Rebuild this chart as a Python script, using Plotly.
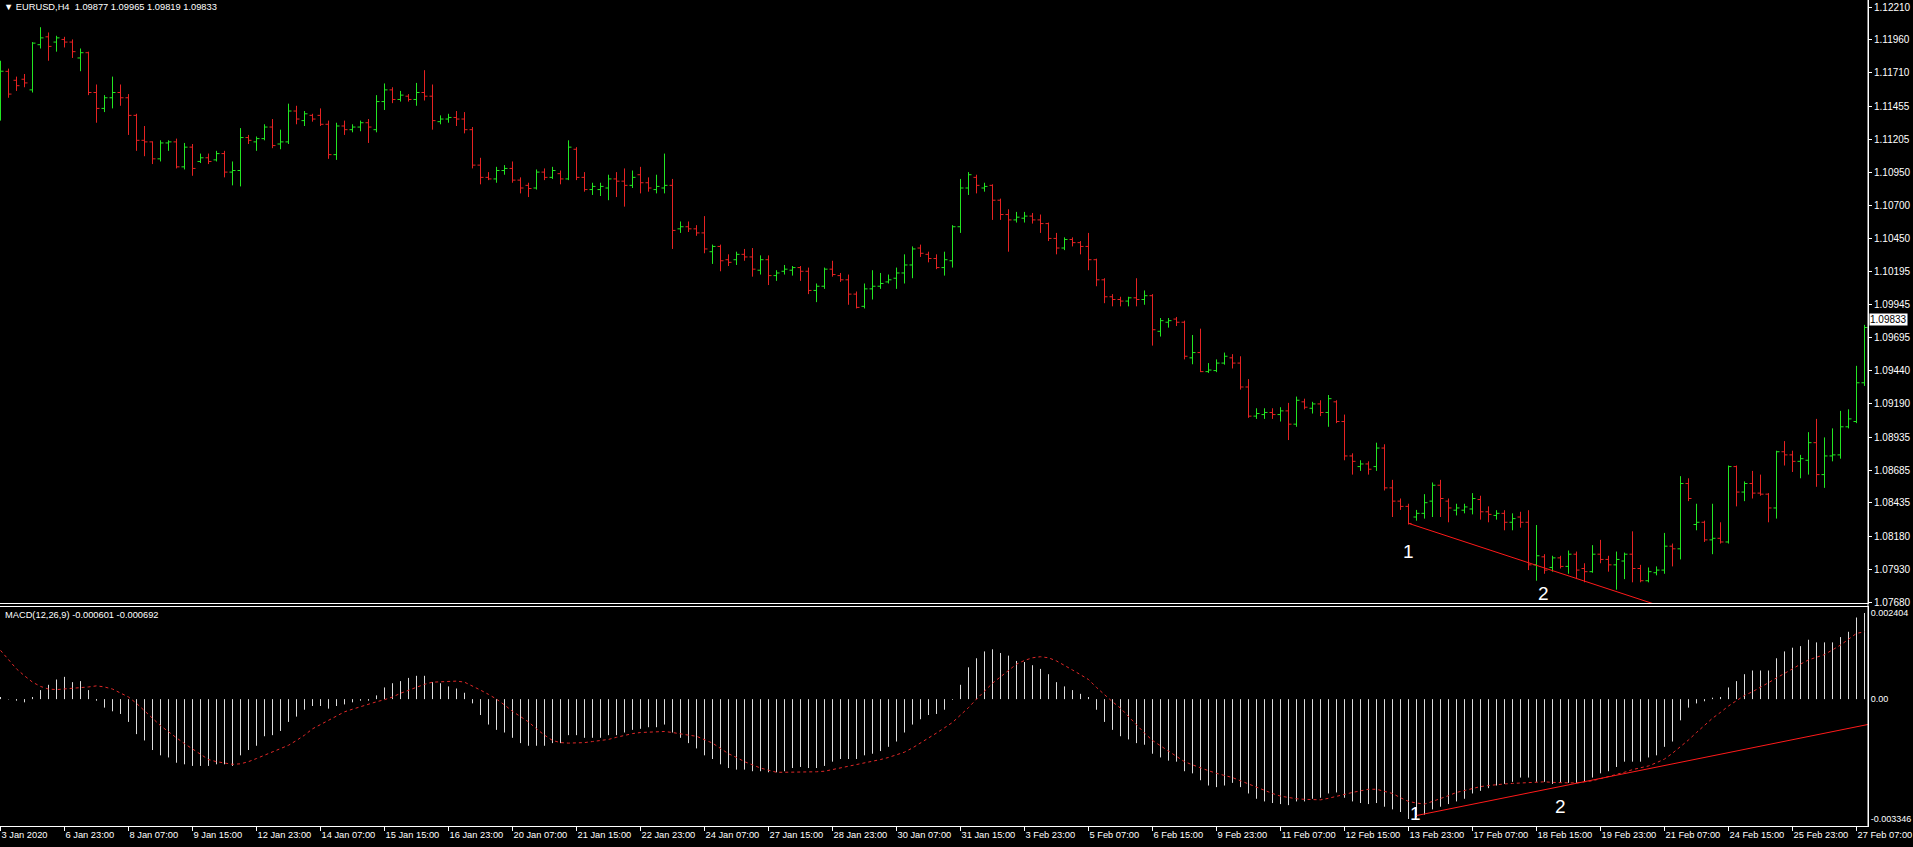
import plotly.graph_objects as go

# ---------------- data ----------------
bar_index = list(range(235))

opens = [
    1.11498, 1.11720, 1.11652, 1.11660, 1.11579, 1.11923, 1.11983, 1.11943, 1.11963, 1.11943,
    1.11822, 1.11862, 1.11559, 1.11438, 1.11519, 1.11559, 1.11519, 1.11385, 1.11195, 1.11183,
    1.11054, 1.11175, 1.11183, 1.10993, 1.11143, 1.11034, 1.11062, 1.11046, 1.11094, 1.10953,
    1.10965, 1.11216, 1.11183, 1.11208, 1.11296, 1.11167, 1.11183, 1.11418, 1.11345, 1.11385,
    1.11385, 1.11317, 1.11086, 1.11304, 1.11276, 1.11296, 1.11329, 1.11276, 1.11490, 1.11579,
    1.11506, 1.11531, 1.11506, 1.11559, 1.11531, 1.11337, 1.11357, 1.11369, 1.11357, 1.11276,
    1.11006, 1.10913, 1.10901, 1.10965, 1.10981, 1.10892, 1.10852, 1.10832, 1.10953, 1.10913,
    1.10941, 1.10901, 1.11127, 1.10913, 1.10820, 1.10820, 1.10832, 1.10901, 1.10884, 1.10852,
    1.10933, 1.10872, 1.10820, 1.10832, 1.10852, 1.10521, 1.10537, 1.10521, 1.10490, 1.10347,
    1.10387, 1.10286, 1.10286, 1.10327, 1.10307, 1.10206, 1.10286, 1.10165, 1.10198, 1.10206,
    1.10226, 1.10198, 1.10052, 1.10084, 1.10214, 1.10165, 1.10133, 1.10024, 1.09931, 1.10064,
    1.10084, 1.10117, 1.10145, 1.10185, 1.10246, 1.10375, 1.10327, 1.10295, 1.10226, 1.10278,
    1.10537, 1.10832, 1.10913, 1.10832, 1.10852, 1.10739, 1.10630, 1.10589, 1.10602, 1.10618,
    1.10589, 1.10561, 1.10448, 1.10375, 1.10440, 1.10416, 1.10387, 1.10286, 1.10133, 1.10004,
    1.09983, 1.09971, 1.09996, 1.09983, 1.10012, 1.09741, 1.09810, 1.09834, 1.09810, 1.09539,
    1.09579, 1.09434, 1.09442, 1.09499, 1.09539, 1.09499, 1.09317, 1.09095, 1.09107, 1.09123,
    1.09107, 1.09135, 1.09034, 1.09204, 1.09155, 1.09188, 1.09123, 1.09204, 1.09054, 1.08792,
    1.08711, 1.08731, 1.08711, 1.08852, 1.08549, 1.08448, 1.08408, 1.08327, 1.08355, 1.08448,
    1.08569, 1.08448, 1.08379, 1.08379, 1.08388, 1.08460, 1.08367, 1.08339, 1.08355, 1.08287,
    1.08327, 1.08287, 1.07963, 1.08024, 1.07943, 1.08016, 1.07951, 1.08044, 1.07935, 1.07911,
    1.08044, 1.08004, 1.07963, 1.07992, 1.08044, 1.07935, 1.07842, 1.07903, 1.07923, 1.08105,
    1.08085, 1.08582, 1.08270, 1.08287, 1.08153, 1.08165, 1.08137, 1.08711, 1.08517, 1.08582,
    1.08509, 1.08501, 1.08396, 1.08824, 1.08800, 1.08751, 1.08759, 1.08893, 1.08650, 1.08792,
    1.08800, 1.09014, 1.09054, 1.09349, 1.09877,
]
highs = [
    1.11801, 1.11741, 1.11680, 1.11700, 1.11943, 1.12056, 1.12016, 1.11991, 1.11983, 1.11963,
    1.11894, 1.11870, 1.11620, 1.11539, 1.11680, 1.11620, 1.11547, 1.11397, 1.11304, 1.11187,
    1.11195, 1.11195, 1.11208, 1.11175, 1.11167, 1.11094, 1.11094, 1.11115, 1.11115, 1.11034,
    1.11288, 1.11236, 1.11224, 1.11317, 1.11357, 1.11276, 1.11474, 1.11458, 1.11418, 1.11397,
    1.11438, 1.11345, 1.11329, 1.11345, 1.11317, 1.11345, 1.11357, 1.11539, 1.11628, 1.11599,
    1.11571, 1.11547, 1.11632, 1.11729, 1.11620, 1.11385, 1.11397, 1.11418, 1.11410, 1.11296,
    1.11062, 1.10953, 1.10993, 1.11006, 1.11034, 1.10913, 1.10872, 1.10973, 1.10981, 1.10993,
    1.10965, 1.11195, 1.11143, 1.10953, 1.10872, 1.10872, 1.10933, 1.10953, 1.10981, 1.10965,
    1.10993, 1.10913, 1.10933, 1.11094, 1.10901, 1.10577, 1.10577, 1.10549, 1.10618, 1.10401,
    1.10401, 1.10327, 1.10347, 1.10368, 1.10375, 1.10319, 1.10319, 1.10206, 1.10246, 1.10238,
    1.10238, 1.10226, 1.10105, 1.10226, 1.10278, 1.10185, 1.10173, 1.10044, 1.10105, 1.10206,
    1.10185, 1.10173, 1.10226, 1.10327, 1.10387, 1.10401, 1.10347, 1.10327, 1.10347, 1.10549,
    1.10901, 1.10953, 1.10933, 1.10872, 1.10860, 1.10751, 1.10670, 1.10650, 1.10650, 1.10642,
    1.10630, 1.10569, 1.10490, 1.10456, 1.10456, 1.10428, 1.10490, 1.10294, 1.10145, 1.10024,
    1.10004, 1.10004, 1.10145, 1.10052, 1.10024, 1.09842, 1.09842, 1.09850, 1.09822, 1.09713,
    1.09761, 1.09499, 1.09527, 1.09579, 1.09567, 1.09551, 1.09377, 1.09155, 1.09155, 1.09155,
    1.09163, 1.09196, 1.09244, 1.09228, 1.09204, 1.09216, 1.09256, 1.09216, 1.09107, 1.08812,
    1.08759, 1.08751, 1.08893, 1.08881, 1.08610, 1.08468, 1.08428, 1.08381, 1.08501, 1.08590,
    1.08610, 1.08468, 1.08428, 1.08428, 1.08509, 1.08489, 1.08408, 1.08379, 1.08379, 1.08355,
    1.08367, 1.08379, 1.08266, 1.08044, 1.08032, 1.08032, 1.08072, 1.08064, 1.07975, 1.08113,
    1.08153, 1.08032, 1.08064, 1.08056, 1.08218, 1.07963, 1.07943, 1.07951, 1.08206, 1.08125,
    1.08638, 1.08622, 1.08428, 1.08299, 1.08428, 1.08287, 1.08719, 1.08719, 1.08598, 1.08678,
    1.08650, 1.08509, 1.08832, 1.08905, 1.08832, 1.08800, 1.08973, 1.09074, 1.08933, 1.09002,
    1.09135, 1.09147, 1.09478, 1.09790, 1.09965,
]
lows = [
    1.11345, 1.11519, 1.11571, 1.11599, 1.11559, 1.11894, 1.11801, 1.11870, 1.11902, 1.11822,
    1.11721, 1.11539, 1.11329, 1.11410, 1.11438, 1.11458, 1.11236, 1.11115, 1.11074, 1.11014,
    1.11034, 1.11115, 1.10981, 1.10973, 1.10925, 1.11022, 1.11014, 1.11034, 1.10913, 1.10852,
    1.10844, 1.11167, 1.11115, 1.11195, 1.11135, 1.11127, 1.11167, 1.11317, 1.11304, 1.11337,
    1.11304, 1.11054, 1.11046, 1.11236, 1.11256, 1.11264, 1.11175, 1.11256, 1.11426, 1.11478,
    1.11490, 1.11490, 1.11458, 1.11498, 1.11276, 1.11317, 1.11329, 1.11304, 1.11248, 1.10981,
    1.10860, 1.10892, 1.10872, 1.10933, 1.10872, 1.10791, 1.10763, 1.10820, 1.10892, 1.10901,
    1.10860, 1.10892, 1.10892, 1.10804, 1.10779, 1.10771, 1.10739, 1.10763, 1.10690, 1.10832,
    1.10791, 1.10804, 1.10791, 1.10791, 1.10368, 1.10490, 1.10497, 1.10468, 1.10335, 1.10254,
    1.10198, 1.10238, 1.10246, 1.10278, 1.10157, 1.10173, 1.10093, 1.10125, 1.10173, 1.10165,
    1.10125, 1.10024, 1.09963, 1.10064, 1.10157, 1.10117, 1.09943, 1.09915, 1.09915, 1.09983,
    1.10064, 1.10105, 1.10064, 1.10105, 1.10145, 1.10307, 1.10266, 1.10214, 1.10165, 1.10226,
    1.10490, 1.10779, 1.10791, 1.10804, 1.10589, 1.10589, 1.10347, 1.10569, 1.10569, 1.10561,
    1.10490, 1.10428, 1.10327, 1.10359, 1.10387, 1.10327, 1.10206, 1.10084, 1.09955, 1.09931,
    1.09931, 1.09931, 1.09931, 1.09943, 1.09632, 1.09701, 1.09769, 1.09781, 1.09527, 1.09490,
    1.09430, 1.09424, 1.09430, 1.09487, 1.09458, 1.09297, 1.09082, 1.09074, 1.09074, 1.09074,
    1.09054, 1.08913, 1.09014, 1.09147, 1.09115, 1.09095, 1.09014, 1.09042, 1.08759, 1.08650,
    1.08678, 1.08650, 1.08678, 1.08529, 1.08327, 1.08381, 1.08270, 1.08299, 1.08315, 1.08327,
    1.08327, 1.08287, 1.08339, 1.08355, 1.08347, 1.08307, 1.08287, 1.08307, 1.08226, 1.08226,
    1.08246, 1.07923, 1.07842, 1.07895, 1.07911, 1.07935, 1.07895, 1.07854, 1.07830, 1.07903,
    1.07975, 1.07911, 1.07774, 1.07854, 1.07830, 1.07830, 1.07830, 1.07883, 1.07895, 1.07951,
    1.08004, 1.08448, 1.08226, 1.08137, 1.08044, 1.08125, 1.08125, 1.08408, 1.08448, 1.08468,
    1.08489, 1.08287, 1.08315, 1.08719, 1.08670, 1.08622, 1.08650, 1.08557, 1.08549, 1.08751,
    1.08771, 1.09002, 1.09042, 1.09325, 1.09819,
]
closes = [
    1.11721, 1.11547, 1.11611, 1.11632, 1.11935, 1.11975, 1.11910, 1.11975, 1.11943, 1.11870,
    1.11862, 1.11559, 1.11438, 1.11519, 1.11559, 1.11519, 1.11385, 1.11195, 1.11183, 1.11054,
    1.11175, 1.11183, 1.10993, 1.11143, 1.10981, 1.11062, 1.11034, 1.11094, 1.10953, 1.10965,
    1.11216, 1.11195, 1.11208, 1.11296, 1.11155, 1.11183, 1.11418, 1.11357, 1.11397, 1.11357,
    1.11317, 1.11086, 1.11304, 1.11276, 1.11296, 1.11329, 1.11296, 1.11490, 1.11579, 1.11506,
    1.11539, 1.11506, 1.11559, 1.11531, 1.11345, 1.11357, 1.11369, 1.11357, 1.11276, 1.11006,
    1.10913, 1.10901, 1.10965, 1.10981, 1.10892, 1.10832, 1.10828, 1.10953, 1.10913, 1.10965,
    1.10901, 1.11143, 1.10913, 1.10820, 1.10844, 1.10844, 1.10901, 1.10884, 1.10852, 1.10913,
    1.10872, 1.10832, 1.10844, 1.10852, 1.10509, 1.10537, 1.10521, 1.10490, 1.10368, 1.10387,
    1.10278, 1.10266, 1.10327, 1.10307, 1.10214, 1.10286, 1.10165, 1.10185, 1.10214, 1.10226,
    1.10198, 1.10052, 1.10084, 1.10214, 1.10173, 1.10133, 1.10024, 1.09923, 1.10064, 1.10084,
    1.10105, 1.10133, 1.10185, 1.10246, 1.10368, 1.10335, 1.10295, 1.10226, 1.10286, 1.10537,
    1.10832, 1.10933, 1.10852, 1.10844, 1.10739, 1.10630, 1.10589, 1.10610, 1.10618, 1.10589,
    1.10561, 1.10448, 1.10375, 1.10440, 1.10416, 1.10387, 1.10286, 1.10133, 1.10004, 1.09983,
    1.09971, 1.09996, 1.09983, 1.10012, 1.09753, 1.09822, 1.09822, 1.09810, 1.09551, 1.09579,
    1.09434, 1.09446, 1.09499, 1.09551, 1.09499, 1.09317, 1.09095, 1.09115, 1.09123, 1.09107,
    1.09135, 1.09034, 1.09216, 1.09163, 1.09188, 1.09123, 1.09228, 1.09054, 1.08792, 1.08751,
    1.08731, 1.08691, 1.08852, 1.08549, 1.08448, 1.08408, 1.08278, 1.08355, 1.08436, 1.08569,
    1.08468, 1.08396, 1.08396, 1.08404, 1.08468, 1.08367, 1.08347, 1.08355, 1.08287, 1.08315,
    1.08287, 1.07963, 1.08032, 1.07923, 1.08016, 1.07951, 1.08044, 1.07923, 1.07911, 1.08044,
    1.08004, 1.07963, 1.08004, 1.08044, 1.07935, 1.07842, 1.07911, 1.07923, 1.08105, 1.08085,
    1.08582, 1.08468, 1.08287, 1.08153, 1.08165, 1.08137, 1.08711, 1.08517, 1.08582, 1.08509,
    1.08501, 1.08396, 1.08824, 1.08800, 1.08751, 1.08771, 1.08893, 1.08650, 1.08792, 1.08800,
    1.09014, 1.09074, 1.09349, 1.09770, 1.09833,
]

macd_main = [
    0.000059, -0.000010, -0.000044, -0.000089, 0.000059, 0.000252, 0.000400, 0.000548, 0.000622, 0.000474,
    0.000503, 0.000252, -0.000044, -0.000237, -0.000340, -0.000414, -0.000636, -0.000977, -0.001154, -0.001421,
    -0.001569, -0.001628, -0.001776, -0.001820, -0.001865, -0.001865, -0.001865, -0.001820, -0.001820, -0.001865,
    -0.001569, -0.001421, -0.001302, -0.001036, -0.001006, -0.000888, -0.000636, -0.000488, -0.000296, -0.000192,
    -0.000192, -0.000266, -0.000192, -0.000148, -0.000089, -0.000044, -0.000044, 0.000104, 0.000326, 0.000444,
    0.000503, 0.000592, 0.000651, 0.000651, 0.000474, 0.000444, 0.000355, 0.000296, 0.000178, -0.000118,
    -0.000444, -0.000710, -0.000858, -0.000932, -0.001080, -0.001228, -0.001302, -0.001302, -0.001302, -0.001228,
    -0.001228, -0.001006, -0.001006, -0.001080, -0.001080, -0.001080, -0.001006, -0.001006, -0.000932, -0.000858,
    -0.000829, -0.000784, -0.000784, -0.000710, -0.000932, -0.001080, -0.001228, -0.001376, -0.001569, -0.001672,
    -0.001820, -0.001924, -0.001968, -0.001968, -0.002013, -0.002013, -0.002042, -0.002042, -0.002013, -0.001924,
    -0.001894, -0.001924, -0.001924, -0.001865, -0.001746, -0.001672, -0.001672, -0.001672, -0.001569, -0.001524,
    -0.001450, -0.001332, -0.001184, -0.000932, -0.000710, -0.000562, -0.000444, -0.000414, -0.000296, -0.000020,
    0.000400, 0.000888, 0.001140, 0.001332, 0.001391, 0.001288, 0.001214, 0.001066, 0.001036, 0.000947,
    0.000844, 0.000696, 0.000474, 0.000355, 0.000252, 0.000148, 0.000059, -0.000296, -0.000636, -0.000858,
    -0.001036, -0.001125, -0.001228, -0.001273, -0.001524, -0.001628, -0.001717, -0.001746, -0.002013, -0.002072,
    -0.002264, -0.002412, -0.002457, -0.002412, -0.002338, -0.002457, -0.002634, -0.002782, -0.002856, -0.002901,
    -0.002930, -0.002960, -0.002856, -0.002856, -0.002782, -0.002753, -0.002634, -0.002605, -0.002753, -0.002856,
    -0.002901, -0.002930, -0.002901, -0.003004, -0.003078, -0.003152, -0.003346, -0.003300, -0.003226, -0.003078,
    -0.003004, -0.002930, -0.002856, -0.002782, -0.002634, -0.002560, -0.002486, -0.002412, -0.002368, -0.002309,
    -0.002190, -0.002190, -0.002309, -0.002309, -0.002368, -0.002338, -0.002338, -0.002338, -0.002309, -0.002190,
    -0.002072, -0.002013, -0.001894, -0.001746, -0.001746, -0.001746, -0.001628, -0.001569, -0.001332, -0.001184,
    -0.000592, -0.000237, -0.000120, -0.000060, 0.000040, 0.000060, 0.000326, 0.000503, 0.000696, 0.000799,
    0.000799, 0.000799, 0.001140, 0.001332, 0.001436, 0.001480, 0.001658, 0.001584, 0.001584, 0.001584,
    0.001732, 0.001880, 0.002279, 0.002404,
]
macd_signal = [
    0.001362, 0.001095, 0.000844, 0.000651, 0.000474, 0.000355, 0.000281, 0.000266, 0.000281, 0.000296,
    0.000311, 0.000340, 0.000370, 0.000340, 0.000281, 0.000178, 0.000059, -0.000118, -0.000340, -0.000533,
    -0.000740, -0.000918, -0.001080, -0.001243, -0.001391, -0.001554, -0.001687, -0.001746, -0.001791, -0.001820,
    -0.001806, -0.001746, -0.001658, -0.001569, -0.001480, -0.001391, -0.001288, -0.001154, -0.001006, -0.000829,
    -0.000710, -0.000592, -0.000474, -0.000355, -0.000281, -0.000207, -0.000133, -0.000074, -0.000015, 0.000059,
    0.000163, 0.000252, 0.000340, 0.000414, 0.000474, 0.000488, 0.000503, 0.000503, 0.000474, 0.000370,
    0.000252, 0.000133, 0.000000, -0.000163, -0.000340, -0.000488, -0.000636, -0.000829, -0.001006, -0.001154,
    -0.001214, -0.001228, -0.001228, -0.001214, -0.001184, -0.001154, -0.001125, -0.001066, -0.001006, -0.000962,
    -0.000932, -0.000918, -0.000903, -0.000903, -0.000932, -0.000977, -0.001006, -0.001036, -0.001125, -0.001228,
    -0.001376, -0.001524, -0.001628, -0.001746, -0.001835, -0.001924, -0.001983, -0.002042, -0.002042, -0.002042,
    -0.002042, -0.002042, -0.002028, -0.002013, -0.001968, -0.001924, -0.001880, -0.001835, -0.001791, -0.001746,
    -0.001687, -0.001628, -0.001554, -0.001480, -0.001362, -0.001228, -0.001095, -0.000947, -0.000799, -0.000651,
    -0.000444, -0.000237, 0.000000, 0.000237, 0.000444, 0.000622, 0.000799, 0.000977, 0.001080, 0.001154,
    0.001184, 0.001154, 0.001066, 0.000947, 0.000814, 0.000681, 0.000548, 0.000326, 0.000118, -0.000074,
    -0.000252, -0.000488, -0.000725, -0.000947, -0.001154, -0.001302, -0.001450, -0.001598, -0.001746, -0.001835,
    -0.001924, -0.001998, -0.002072, -0.002131, -0.002190, -0.002279, -0.002368, -0.002472, -0.002560, -0.002634,
    -0.002708, -0.002753, -0.002782, -0.002797, -0.002812, -0.002812, -0.002768, -0.002708, -0.002649, -0.002605,
    -0.002560, -0.002516, -0.002516, -0.002575, -0.002634, -0.002753, -0.002856, -0.002901, -0.002930, -0.002856,
    -0.002782, -0.002694, -0.002605, -0.002546, -0.002486, -0.002442, -0.002412, -0.002383, -0.002368, -0.002353,
    -0.002338, -0.002324, -0.002309, -0.002309, -0.002324, -0.002338, -0.002338, -0.002338, -0.002309, -0.002279,
    -0.002220, -0.002161, -0.002116, -0.002042, -0.001968, -0.001924, -0.001865, -0.001776, -0.001672, -0.001510,
    -0.001332, -0.001140, -0.000932, -0.000740, -0.000533, -0.000370, -0.000192, -0.000044, 0.000104, 0.000207,
    0.000326, 0.000459, 0.000592, 0.000710, 0.000844, 0.000977, 0.001095, 0.001169, 0.001243, 0.001376,
    0.001510, 0.001672, 0.001835, 0.001880,
]

date_labels = [
    "3 Jan 2020", "6 Jan 23:00", "8 Jan 07:00", "9 Jan 15:00", "12 Jan 23:00", "14 Jan 07:00",
    "15 Jan 15:00", "16 Jan 23:00", "20 Jan 07:00", "21 Jan 15:00", "22 Jan 23:00", "24 Jan 07:00",
    "27 Jan 15:00", "28 Jan 23:00", "30 Jan 07:00", "31 Jan 15:00", "3 Feb 23:00", "5 Feb 07:00",
    "6 Feb 15:00", "9 Feb 23:00", "11 Feb 07:00", "12 Feb 15:00", "13 Feb 23:00", "17 Feb 07:00",
    "18 Feb 15:00", "19 Feb 23:00", "21 Feb 07:00", "24 Feb 15:00", "25 Feb 23:00", "27 Feb 07:00",
]
date_label_bars = [8 * k for k in range(len(date_labels))]

price_ticks = [1.12210, 1.11960, 1.11710, 1.11455, 1.11205, 1.10950, 1.10700, 1.10450, 1.10195,
               1.09945, 1.09695, 1.09440, 1.09190, 1.08935, 1.08685, 1.08435, 1.08180, 1.07930, 1.07680]
macd_ticks = [0.002404, 0.0, -0.003346]
macd_tick_text = ["0.002404", "0.00", "-0.003346"]

last_price = 1.09833
title_text = "EURUSD,H4\u00a0\u00a01.09877 1.09965 1.09819 1.09833"
macd_title = "MACD(12,26,9) -0.000601 -0.000692"

# trend lines (bar index, value)
price_trend_bars = [176, 212]
price_trend_vals = [1.08279, 1.07559]
macd_trend_bars = [177, 240]
macd_trend_vals = [-0.003250, -0.000412]

# point labels (bar index, value, text)
price_marks = [(176.0, 1.08061, "1"), (192.9, 1.07748, "2")]
macd_marks = [(176.9, -0.003186, "1"), (195.0, -0.002990, "2")]

# ---------------- styling ----------------
UP = "#22e622"
DN = "#e62222"
HIST = "#dcdcdc"
SIG = "#e02828"
TREND = "#ff1a1a"
FONT = "Liberation Sans, Arial, sans-serif"

W, H = 1913, 847
M_L, M_R, M_T, M_B = 0, 45, 0, 21
PLOT_H = H - M_T - M_B  # 826
price_bottom = 1 - 603 / PLOT_H
macd_top = (PLOT_H - 607) / PLOT_H

x_range = [-0.0625, 233.4375]
price_range = [1.076724, 1.122633]
macd_range = [-0.003542, 0.002572]

fig = go.Figure()

fig.add_trace(go.Ohlc(
    x=bar_index, open=opens, high=highs, low=lows, close=closes,
    increasing=dict(line=dict(color=UP, width=1)),
    decreasing=dict(line=dict(color=DN, width=1)),
    tickwidth=0.375, xaxis="x", yaxis="y", hoverinfo="skip", showlegend=False,
))

hx, hy = [], []
for i, v in enumerate(macd_main):
    hx += [i, i, None]
    hy += [0, v, None]
fig.add_trace(go.Scatter(x=hx, y=hy, mode="lines", line=dict(color=HIST, width=1),
                         xaxis="x2", yaxis="y2", hoverinfo="skip", showlegend=False))
fig.add_trace(go.Scatter(x=list(range(len(macd_signal))), y=macd_signal, mode="lines",
                         line=dict(color=SIG, width=1, dash="3px,3px"),
                         xaxis="x2", yaxis="y2", hoverinfo="skip", showlegend=False))

fig.add_trace(go.Scatter(x=price_trend_bars, y=price_trend_vals, mode="lines",
                         line=dict(color=TREND, width=1), xaxis="x", yaxis="y",
                         hoverinfo="skip", showlegend=False))
fig.add_trace(go.Scatter(x=macd_trend_bars, y=macd_trend_vals, mode="lines",
                         line=dict(color=TREND, width=1), xaxis="x2", yaxis="y2",
                         hoverinfo="skip", showlegend=False))

price_font = dict(family=FONT, size=10, color="white")
macd_font = dict(family=FONT, size=9, color="white")
date_font = dict(family=FONT, size=9.3, color="white")

fig.update_layout(
    width=W, height=H,
    margin=dict(l=M_L, r=M_R, t=M_T, b=M_B, pad=0),
    paper_bgcolor="black", plot_bgcolor="black",
    showlegend=False, hovermode=False,
    xaxis=dict(domain=[0, 1], range=x_range, anchor="y", showgrid=False, zeroline=False,
               showticklabels=False, ticks="", showline=True, linecolor="white", linewidth=1,
               rangeslider=dict(visible=False), fixedrange=True, automargin=False),
    yaxis=dict(domain=[price_bottom, 1], range=price_range, anchor="x", side="right",
               tickvals=price_ticks, ticktext=[f"{v:.5f}" for v in price_ticks],
               ticks="outside", ticklen=3, tickcolor="white", tickfont=price_font,
               showgrid=False, zeroline=False, showline=True, linecolor="white", linewidth=1,
               fixedrange=True, automargin=False),
    xaxis2=dict(domain=[0, 1], range=x_range, anchor="y2", tickvals=date_label_bars,
                ticktext=date_labels, ticklabelposition="outside right", ticklabeloverflow="allow",
                ticks="outside", ticklen=4, tickcolor="white", tickangle=0, tickfont=date_font,
                showline=True, mirror=True, linecolor="white", linewidth=1,
                showgrid=False, zeroline=False, fixedrange=True, automargin=False),
    yaxis2=dict(domain=[0, macd_top], range=macd_range, anchor="x2", side="right",
                tickvals=macd_ticks, ticktext=macd_tick_text,
                ticks="", tickfont=macd_font,
                showgrid=False, zeroline=False, showline=True, linecolor="white", linewidth=1,
                fixedrange=True, automargin=False),
    shapes=[dict(type="line", xref="paper", yref="paper", x0=1, x1=1, y0=0, y1=1,
                 line=dict(color="white", width=1))],
)

annotations = [
    dict(x=0, y=1, xref="paper", yref="paper", xanchor="left", yanchor="top",
         text="\u25BC\u00a0" + title_text, showarrow=False, xshift=2, yshift=0,
         font=dict(family=FONT, size=9.3, color="white")),
    dict(x=0, y=macd_top, xref="paper", yref="paper", xanchor="left", yanchor="top",
         text=macd_title, showarrow=False, xshift=3, yshift=-1,
         font=dict(family=FONT, size=9.3, color="white")),
    dict(x=1, y=last_price, xref="paper", yref="y", xanchor="left", yanchor="middle",
         text=str(last_price), showarrow=False, xshift=1, bgcolor="white", borderpad=0,
         font=dict(family=FONT, size=10, color="black")),
]
for bx, val, txt in price_marks:
    annotations.append(dict(x=bx, y=val, xref="x", yref="y", text=txt, showarrow=False,
                            xanchor="center", yanchor="middle",
                            font=dict(family=FONT, size=19, color="white")))
for bx, val, txt in macd_marks:
    annotations.append(dict(x=bx, y=val, xref="x2", yref="y2", text=txt, showarrow=False,
                            xanchor="center", yanchor="middle",
                            font=dict(family=FONT, size=19, color="white")))
fig.update_layout(annotations=annotations)

fig.write_html("out.html", config={"displayModeBar": False, "staticPlot": True},
               post_script="document.body.style.margin='0';document.body.style.overflow='hidden';")
